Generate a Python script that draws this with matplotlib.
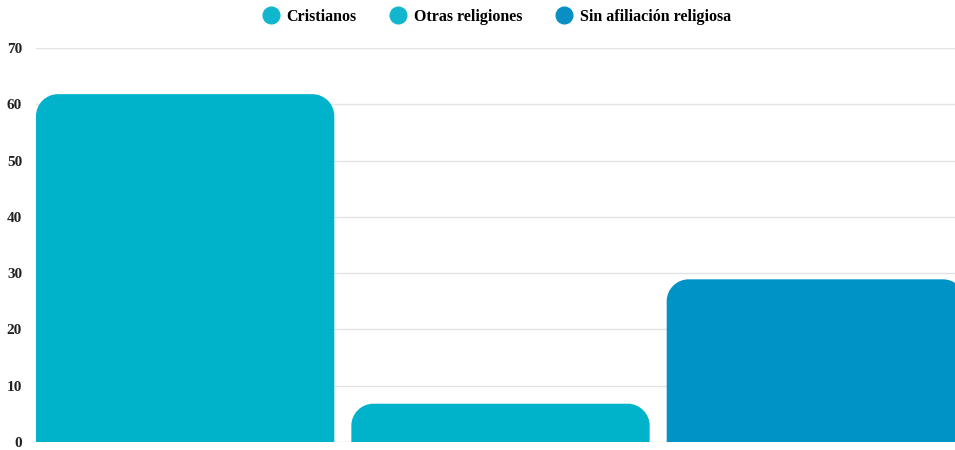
import matplotlib
matplotlib.use("Agg")
import matplotlib.pyplot as plt
from matplotlib.path import Path
from matplotlib.patches import PathPatch
from matplotlib.lines import Line2D

categories = ["Cristianos", "Otras religiones", "Sin afiliación religiosa"]
values = [61.8, 6.8, 28.9]
bar_colors = ["#00B3CA", "#00B3CA", "#0094C6"]
legend_colors = ["#12B6CC", "#12B6CF", "#0A8FC4"]
yticks = [0, 10, 20, 30, 40, 50, 60, 70]

W, H = 955, 450
fig = plt.figure(figsize=(W / 100, H / 100), dpi=100)
fig.patch.set_facecolor("white")
ax = fig.add_axes([36 / W, 8 / H, (965 - 36) / W, (442 - 48) / H])

serif = ["Liberation Serif", "DejaVu Serif"]
bw = 0.946
x = list(range(len(categories)))
bars = ax.bar(x, values, width=bw, color=bar_colors, zorder=2)
ax.set_xlim(-bw / 2, len(categories) - 1 + bw / 2)
ax.set_ylim(0, 70)

# rounded top corners
fig.canvas.draw()
px_per_x = ax.transData.transform((1, 0))[0] - ax.transData.transform((0, 0))[0]
px_per_y = ax.transData.transform((0, 1))[1] - ax.transData.transform((0, 0))[1]
r_px = 22
k = 0.5523
for b, c in zip(bars, bar_colors):
    x0, w, h = b.get_x(), b.get_width(), b.get_height()
    rx = r_px / px_per_x
    ry = min(r_px / px_per_y, h)
    x1 = x0 + w
    verts = [
        (x0, 0), (x0, h - ry),
        (x0, h - ry + k * ry), (x0 + rx - k * rx, h), (x0 + rx, h),
        (x1 - rx, h),
        (x1 - rx + k * rx, h), (x1, h - ry + k * ry), (x1, h - ry),
        (x1, 0), (x0, 0),
    ]
    codes = [Path.MOVETO, Path.LINETO,
             Path.CURVE4, Path.CURVE4, Path.CURVE4,
             Path.LINETO,
             Path.CURVE4, Path.CURVE4, Path.CURVE4,
             Path.LINETO, Path.CLOSEPOLY]
    b.set_visible(False)
    ax.add_patch(PathPatch(Path(verts, codes), facecolor=c, edgecolor="none", zorder=2))

ax.set_yticks(yticks)
ax.set_yticklabels([str(t) for t in yticks], fontfamily=serif, fontweight="bold",
                   fontsize=11, color="#222222", va="center_baseline")
ax.set_xticks([])
ax.tick_params(axis="y", length=0, pad=10)
ax.grid(axis="y", color="#E4E4E4", linewidth=1, zorder=0)
for s in ax.spines.values():
    s.set_visible(False)

handles = [Line2D([], [], marker="o", linestyle="none", markersize=12,
                  markerfacecolor=c, markeredgecolor=c) for c in legend_colors]
fig.legend(handles, categories, loc="center", bbox_to_anchor=(497 / W, 1 - 17 / H),
           ncol=3, frameon=False, prop={"family": serif, "weight": "bold", "size": 11.5},
           handletextpad=0.5, columnspacing=2.1, handlelength=1.0)

fig.savefig("out.png", dpi=100, facecolor="white")
